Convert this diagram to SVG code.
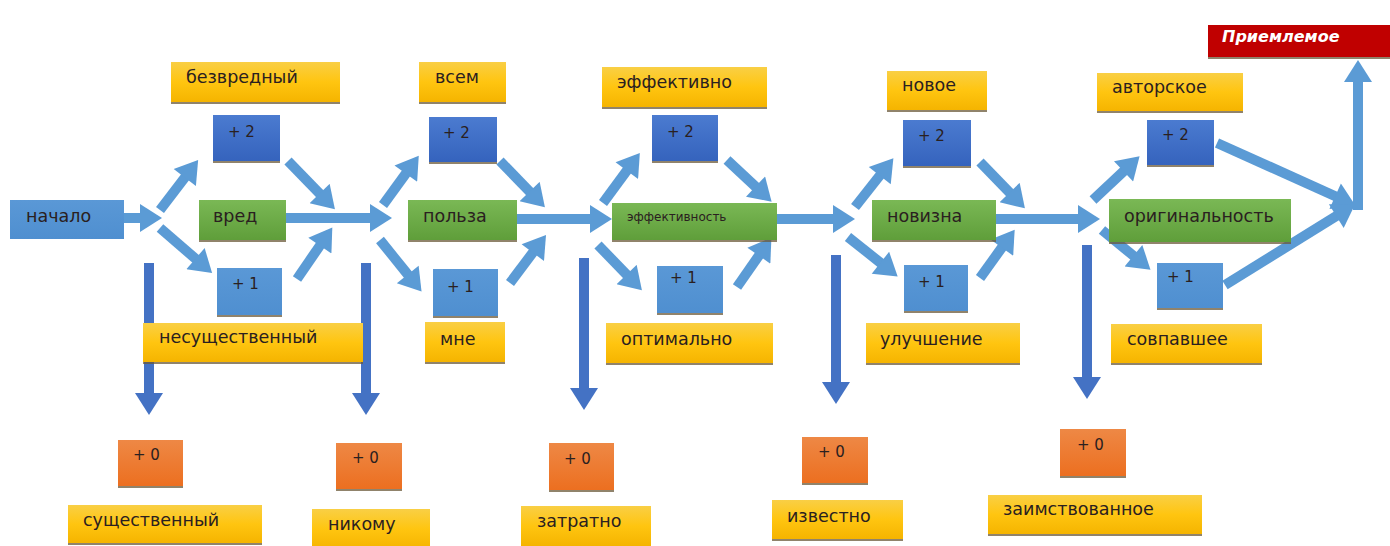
<svg xmlns="http://www.w3.org/2000/svg" width="1390" height="546" viewBox="0 0 1390 546">
<defs>
<linearGradient id="gY" x1="0" y1="0" x2="0" y2="1"><stop offset="0" stop-color="#f9cf45"/><stop offset="0.5" stop-color="#ffc510"/><stop offset="1" stop-color="#f5b400"/></linearGradient>
<linearGradient id="gB2" x1="0" y1="0" x2="0" y2="1"><stop offset="0" stop-color="#4b7bd0"/><stop offset="1" stop-color="#3563bd"/></linearGradient>
<linearGradient id="gB1" x1="0" y1="0" x2="0" y2="1"><stop offset="0" stop-color="#5a98d6"/><stop offset="1" stop-color="#4f8fd0"/></linearGradient>
<linearGradient id="gG" x1="0" y1="0" x2="0" y2="1"><stop offset="0" stop-color="#7ab855"/><stop offset="1" stop-color="#5f9e3a"/></linearGradient>
<linearGradient id="gO" x1="0" y1="0" x2="0" y2="1"><stop offset="0" stop-color="#ee8845"/><stop offset="1" stop-color="#ec6f20"/></linearGradient>
<marker id="ah" markerUnits="userSpaceOnUse" markerWidth="24" markerHeight="28" viewBox="0 0 22 28" refX="2" refY="14" orient="auto"><path d="M0,0 L22,14 L0,28 z" fill="#5b9bd5"/></marker>
<marker id="ahd" markerUnits="userSpaceOnUse" markerWidth="24" markerHeight="28" viewBox="0 0 22 28" refX="2" refY="14" orient="auto"><path d="M0,0 L22,14 L0,28 z" fill="#4472c4"/></marker>
</defs>
<style>
.c{stroke:#5b9bd5;stroke-width:10;fill:none;marker-end:url(#ah)}
.d{stroke:#4472c4;stroke-width:10;fill:none;marker-end:url(#ahd)}
.sh{fill:#6b5a3a;opacity:0.75}
.y{fill:url(#gY)}
.b2{fill:url(#gB2)}
.b1{fill:url(#gB1)}
.g{fill:url(#gG)}
.o{fill:url(#gO)}
.r{fill:#c00000}
text{font-family:"DejaVu Sans","Liberation Sans",sans-serif;font-size:17.5px;fill:#2a2020}
.n{font-size:15px}
.s{font-size:12px}
.w{fill:#ffffff;font-weight:bold;font-style:italic;font-size:16px}
</style>
<rect width="1390" height="546" fill="#ffffff"/>
<g id="connectors">
<line class="c" x1="124" y1="218" x2="142" y2="218"/>
<line class="c" x1="160" y1="210" x2="186" y2="176"/>
<line class="c" x1="160" y1="228" x2="197" y2="260"/>
<line class="c" x1="288" y1="161" x2="321" y2="195"/>
<line class="c" x1="286" y1="218" x2="372" y2="218"/>
<line class="c" x1="297" y1="279" x2="321" y2="244"/>
<line class="c" x1="383" y1="205" x2="407" y2="172"/>
<line class="c" x1="380" y1="240" x2="409" y2="276"/>
<line class="c" x1="500" y1="161" x2="531" y2="193"/>
<line class="c" x1="517" y1="219" x2="592" y2="219"/>
<line class="c" x1="510" y1="283" x2="534" y2="251"/>
<line class="c" x1="603" y1="203" x2="628" y2="169"/>
<line class="c" x1="598" y1="245" x2="628" y2="276"/>
<line class="c" x1="727" y1="160" x2="757" y2="188"/>
<line class="c" x1="777" y1="219" x2="835" y2="219"/>
<line class="c" x1="737" y1="287" x2="760" y2="254"/>
<line class="c" x1="855" y1="207" x2="881" y2="174"/>
<line class="c" x1="848" y1="237" x2="882" y2="264"/>
<line class="c" x1="980" y1="162" x2="1011" y2="194"/>
<line class="c" x1="996" y1="219" x2="1080" y2="219"/>
<line class="c" x1="980" y1="278" x2="1003" y2="246"/>
<line class="c" x1="1093" y1="200" x2="1125" y2="170"/>
<line class="c" x1="1102" y1="230" x2="1135" y2="257"/>
<line class="c" x1="1217" y1="143" x2="1337" y2="197"/>
<line class="c" x1="1225" y1="285" x2="1338" y2="215"/>
<line class="c" x1="1358" y1="210" x2="1358" y2="80"/>
<line class="d" x1="149" y1="263" x2="149" y2="395"/>
<line class="d" x1="366" y1="263" x2="366" y2="395"/>
<line class="d" x1="584" y1="258" x2="584" y2="390"/>
<line class="d" x1="836" y1="255" x2="836" y2="384"/>
<line class="d" x1="1087" y1="245" x2="1087" y2="379"/>
</g>
<g id="n-nachalo"><rect class="b1" x="10" y="200" width="114" height="39"/><text x="26" y="222">начало</text></g>
<g id="n-vred"><rect class="sh" x="199" y="202" width="87" height="40"/><rect class="g" x="199" y="200" width="87" height="40"/><text x="213" y="222">вред</text></g>
<g id="n-bezvred"><rect class="sh" x="171" y="64" width="169" height="40"/><rect class="y" x="171" y="62" width="169" height="40"/><text x="186" y="83">безвредный</text></g>
<g id="n-v2"><rect class="sh" x="213" y="117" width="67" height="46"/><rect class="b2" x="213" y="115" width="67" height="46"/><text class="n" x="228" y="137">+ 2</text></g>
<g id="n-v1"><rect class="sh" x="217" y="270" width="65" height="47"/><rect class="b1" x="217" y="268" width="65" height="47"/><text class="n" x="232" y="289">+ 1</text></g>
<g id="n-nesush"><rect class="sh" x="143" y="325" width="220" height="39"/><rect class="y" x="143" y="323" width="220" height="39"/><text x="159" y="343">несущественный</text></g>
<g id="n-v0"><rect class="sh" x="118" y="442" width="65" height="46"/><rect class="o" x="118" y="440" width="65" height="46"/><text class="n" x="133" y="460">+ 0</text></g>
<g id="n-sush"><rect class="sh" x="68" y="507" width="194" height="38"/><rect class="y" x="68" y="505" width="194" height="38"/><text x="83" y="526">существенный</text></g>
<g id="n-polza"><rect class="sh" x="408" y="202" width="109" height="40"/><rect class="g" x="408" y="200" width="109" height="40"/><text x="423" y="222">польза</text></g>
<g id="n-vsem"><rect class="sh" x="419" y="64" width="87" height="40"/><rect class="y" x="419" y="62" width="87" height="40"/><text x="435" y="83">всем</text></g>
<g id="n-p2"><rect class="sh" x="429" y="119" width="68" height="45"/><rect class="b2" x="429" y="117" width="68" height="45"/><text class="n" x="443" y="138">+ 2</text></g>
<g id="n-p1"><rect class="sh" x="433" y="271" width="65" height="47"/><rect class="b1" x="433" y="269" width="65" height="47"/><text class="n" x="447" y="292">+ 1</text></g>
<g id="n-mne"><rect class="sh" x="425" y="324" width="80" height="40"/><rect class="y" x="425" y="322" width="80" height="40"/><text x="440" y="345">мне</text></g>
<g id="n-p0"><rect class="sh" x="336" y="445" width="66" height="46"/><rect class="o" x="336" y="443" width="66" height="46"/><text class="n" x="352" y="463">+ 0</text></g>
<g id="n-nikomu"><rect class="y" x="312" y="509" width="118" height="40"/><text x="328" y="530">никому</text></g>
<g id="n-eff"><rect class="sh" x="612" y="205" width="165" height="37"/><rect class="g" x="612" y="203" width="165" height="37"/><text class="s" x="627" y="221">эффективность</text></g>
<g id="n-effno"><rect class="sh" x="602" y="69" width="165" height="40"/><rect class="y" x="602" y="67" width="165" height="40"/><text x="617" y="88">эффективно</text></g>
<g id="n-e2"><rect class="sh" x="652" y="117" width="66" height="46"/><rect class="b2" x="652" y="115" width="66" height="46"/><text class="n" x="667" y="137">+ 2</text></g>
<g id="n-e1"><rect class="sh" x="657" y="268" width="66" height="47"/><rect class="b1" x="657" y="266" width="66" height="47"/><text class="n" x="670" y="283">+ 1</text></g>
<g id="n-optim"><rect class="sh" x="606" y="325" width="167" height="40"/><rect class="y" x="606" y="323" width="167" height="40"/><text x="621" y="345">оптимально</text></g>
<g id="n-e0"><rect class="sh" x="549" y="445" width="65" height="47"/><rect class="o" x="549" y="443" width="65" height="47"/><text class="n" x="564" y="464">+ 0</text></g>
<g id="n-zatr"><rect class="y" x="521" y="506" width="130" height="40"/><text x="537" y="527">затратно</text></g>
<g id="n-noviz"><rect class="sh" x="872" y="202" width="124" height="40"/><rect class="g" x="872" y="200" width="124" height="40"/><text x="887" y="222">новизна</text></g>
<g id="n-novoe"><rect class="sh" x="887" y="73" width="100" height="39"/><rect class="y" x="887" y="71" width="100" height="39"/><text x="902" y="91">новое</text></g>
<g id="n-n2"><rect class="sh" x="903" y="122" width="68" height="46"/><rect class="b2" x="903" y="120" width="68" height="46"/><text class="n" x="918" y="141">+ 2</text></g>
<g id="n-n1"><rect class="sh" x="904" y="267" width="64" height="46"/><rect class="b1" x="904" y="265" width="64" height="46"/><text class="n" x="918" y="287">+ 1</text></g>
<g id="n-uluch"><rect class="sh" x="866" y="325" width="154" height="40"/><rect class="y" x="866" y="323" width="154" height="40"/><text x="880" y="345">улучшение</text></g>
<g id="n-n0"><rect class="sh" x="802" y="439" width="66" height="46"/><rect class="o" x="802" y="437" width="66" height="46"/><text class="n" x="818" y="457">+ 0</text></g>
<g id="n-izv"><rect class="sh" x="772" y="502" width="131" height="39"/><rect class="y" x="772" y="500" width="131" height="39"/><text x="787" y="522">известно</text></g>
<g id="n-orig"><rect class="sh" x="1109" y="201" width="182" height="43"/><rect class="g" x="1109" y="199" width="182" height="43"/><text x="1124" y="222">оригинальность</text></g>
<g id="n-avtor"><rect class="sh" x="1097" y="75" width="146" height="38"/><rect class="y" x="1097" y="73" width="146" height="38"/><text x="1112" y="93">авторское</text></g>
<g id="n-o2"><rect class="sh" x="1147" y="122" width="67" height="45"/><rect class="b2" x="1147" y="120" width="67" height="45"/><text class="n" x="1162" y="140">+ 2</text></g>
<g id="n-o1"><rect class="sh" x="1157" y="265" width="66" height="45"/><rect class="b1" x="1157" y="263" width="66" height="45"/><text class="n" x="1167" y="282">+ 1</text></g>
<g id="n-sovp"><rect class="sh" x="1111" y="326" width="151" height="39"/><rect class="y" x="1111" y="324" width="151" height="39"/><text x="1127" y="345">совпавшее</text></g>
<g id="n-o0"><rect class="sh" x="1060" y="431" width="66" height="47"/><rect class="o" x="1060" y="429" width="66" height="47"/><text class="n" x="1077" y="450">+ 0</text></g>
<g id="n-zaim"><rect class="sh" x="988" y="497" width="214" height="39"/><rect class="y" x="988" y="495" width="214" height="39"/><text x="1003" y="515">заимствованное</text></g>
<g id="n-priem"><rect class="sh" x="1208" y="27" width="182" height="32"/><rect class="r" x="1208" y="25" width="182" height="32"/><text class="w" x="1222" y="42">Приемлемое</text></g>
</svg>
